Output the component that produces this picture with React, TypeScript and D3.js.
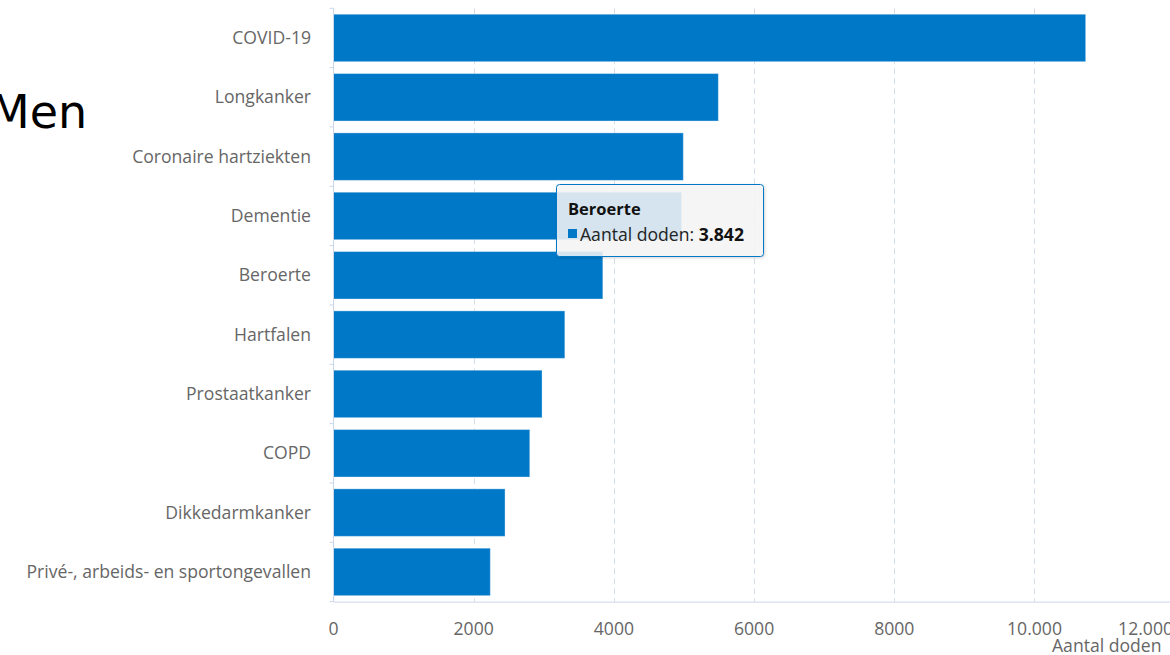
import React from "react";
import * as d3 from "d3";

const categories = [
  "COVID-19",
  "Longkanker",
  "Coronaire hartziekten",
  "Dementie",
  "Beroerte",
  "Hartfalen",
  "Prostaatkanker",
  "COPD",
  "Dikkedarmkanker",
  "Privé-, arbeids- en sportongevallen",
];
const deaths = [10730, 5490, 4990, 4965, 3842, 3300, 2975, 2800, 2447, 2237];
const xTicks = [0, 2000, 4000, 6000, 8000, 10000, 12000];
const xTickLabels = ["0", "2000", "4000", "6000", "8000", "10.000", "12.000"];
const title = "Men";
const axisTitle = "Aantal doden";
const tooltipCategory = "Beroerte";
const tooltipLabel = "Aantal doden: ";
const tooltipValue = "3.842";

const W = 1170;
const H = 655;
const BAR = "#0078c8";
const GRID = "#d3deeb";
const AXIS = "#ccd6eb";
const FONT = "'Open Sans', 'Noto Sans', sans-serif";
const LABEL_SIZE = 17.6;

export default function App() {
  const x = d3.scaleLinear().domain([0, 12000]).range([333.5, 333.5 + 12000 * 0.0701]);
  const y = d3
    .scaleBand<string>()
    .domain(categories)
    .range([8.3, 601.6])
    .paddingInner(0.2)
    .paddingOuter(0.1);
  const step = y.step();
  const top = y.range()[0];
  const bottom = y.range()[1];
  const lastTick = xTicks.length - 1;

  return (
    <svg
      width={W}
      height={H}
      style={{ position: "absolute", left: 0, top: 0, background: "#fff" }}
      fontFamily={FONT}
    >
      <defs>
        <filter id="shadow" x="-10%" y="-10%" width="130%" height="140%">
          <feDropShadow dx="1" dy="1" stdDeviation="1.5" floodColor="#000" floodOpacity="0.18" />
        </filter>
      </defs>

      {/* Title */}
      <text x={-10} y={128} fontFamily="'DejaVu Sans', sans-serif" fontSize={46} fill="#000">
        {title}
      </text>

      {/* grid lines */}
      {xTicks.slice(1).map((t) => (
        <line
          key={t}
          x1={Math.round(x(t)) + 0.5}
          x2={Math.round(x(t)) + 0.5}
          y1={top}
          y2={bottom}
          stroke={GRID}
          strokeWidth={1}
          strokeDasharray="6,4"
        />
      ))}

      {/* bars */}
      {categories.map((c, i) => (
        <rect
          key={c}
          x={x(0)}
          y={y(c)}
          width={x(deaths[i]) - x(0)}
          height={y.bandwidth()}
          fill={BAR}
          stroke="#ffffff"
          strokeOpacity={0.35}
          strokeWidth={1}
        />
      ))}

      {/* y axis line */}
      <line x1={333.5} x2={333.5} y1={top} y2={bottom} stroke={AXIS} strokeWidth={1} />
      {d3.range(categories.length + 1).map((i) => (
        <line
          key={i}
          x1={329.5}
          x2={333.5}
          y1={top + i * step}
          y2={top + i * step}
          stroke={AXIS}
          strokeWidth={1}
        />
      ))}
      {/* x axis line */}
      <line x1={333.5} x2={W} y1={bottom + 0.5} y2={bottom + 0.5} stroke={AXIS} strokeWidth={1} />

      {/* category labels */}
      {categories.map((c) => (
        <text
          key={c}
          x={311}
          y={(y(c) as number) + y.bandwidth() / 2}
          dy="0.35em"
          textAnchor="end"
          fontSize={LABEL_SIZE}
          fill="#666666"
        >
          {c}
        </text>
      ))}

      {/* x tick labels */}
      {xTicks.map((t, i) => (
        <text
          key={t}
          x={i === lastTick ? W + 3 : x(t)}
          y={635}
          textAnchor={i === lastTick ? "end" : "middle"}
          fontSize={LABEL_SIZE}
          fill="#666666"
        >
          {xTickLabels[i]}
        </text>
      ))}
      <text x={1052} y={652} fontSize={LABEL_SIZE} fill="#666666">
        {axisTitle}
      </text>

      {/* tooltip */}
      <g filter="url(#shadow)">
        <rect
          x={556.5}
          y={184.5}
          width={207}
          height={72}
          rx={3}
          fill="rgba(247,247,247,0.85)"
          stroke={BAR}
          strokeWidth={1}
        />
      </g>
      <text x={568} y={215} fontSize={16.5} fontWeight="bold" fill="#111">
        {tooltipCategory}
      </text>
      <rect x={568} y={229} width={9} height={9} fill={BAR} />
      <text x={580} y={241} fontSize={17.6} fill="#222">
        {tooltipLabel}
        <tspan fontWeight="bold" fill="#111">
          {tooltipValue}
        </tspan>
      </text>
    </svg>
  );
}
